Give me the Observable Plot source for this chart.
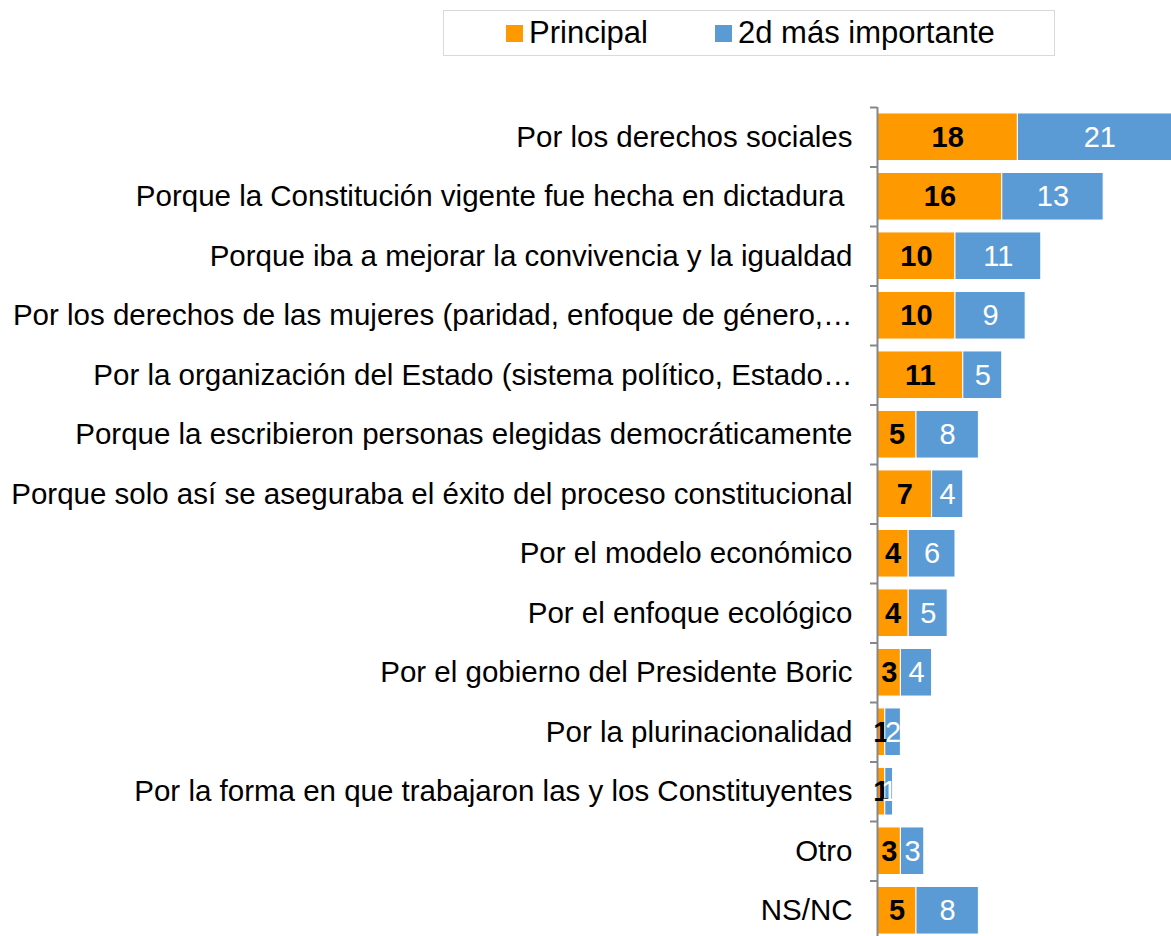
<!DOCTYPE html>
<html>
<head>
<meta charset="utf-8">
<script src="https://cdn.jsdelivr.net/npm/d3@7"></script>
<script src="https://cdn.jsdelivr.net/npm/@observablehq/plot@0.6"></script>
<style>
  html, body { margin: 0; padding: 0; background: #fff; overflow: hidden; }
  #wrap { position: relative; width: 1171px; height: 936px; font-family: "Liberation Sans", Arial, sans-serif; }
  #legend { position: absolute; left: 443px; top: 10px; width: 610px; height: 44px; border: 1px solid #d9d9d9;
            font-size: 31px; color: #000; box-sizing: content-box; }
  .item { display: flex; align-items: center; position: absolute; top: 5px; height: 34px; }
  .sw { width: 17px; height: 17px; margin-right: 6px; }
  #chart { position: absolute; left: 0; top: 66px; width: 1171px; }
</style>
</head>
<body>
<div id="wrap">
  <div id="legend"></div>
  <div id="chart"></div>
</div>
<script>
const categories = [
  "Por los derechos sociales",
  "Porque la Constitución vigente fue hecha en dictadura ",
  "Porque iba a mejorar la convivencia y la igualdad",
  "Por los derechos de las mujeres (paridad, enfoque de género,…",
  "Por la organización del Estado (sistema político, Estado…",
  "Porque la escribieron personas elegidas democráticamente",
  "Porque solo así se aseguraba el éxito del proceso constitucional",
  "Por el modelo económico",
  "Por el enfoque ecológico",
  "Por el gobierno del Presidente Boric",
  "Por la plurinacionalidad",
  "Por la forma en que trabajaron las y los Constituyentes",
  "Otro",
  "NS/NC"
];
const principal = [18, 16, 10, 10, 11, 5, 7, 4, 4, 3, 1, 1, 3, 5];
const segundo   = [21, 13, 11, 9, 5, 8, 4, 6, 5, 4, 2, 1, 3, 8];
const seriesNames = ["Principal", "2d más importante"];
const seriesColors = ["#FF9900", "#5B9BD5"];

const data = [
  ...categories.map((c, i) => ({cat: c, series: seriesNames[0], value: principal[i]})),
  ...categories.map((c, i) => ({cat: c, series: seriesNames[1], value: segundo[i]}))
];

// legend
const legend = document.getElementById("legend");
const legendPos = [62, 271];
seriesNames.forEach((s, i) => {
  const it = document.createElement("div");
  it.className = "item";
  it.style.left = legendPos[i] + "px";
  it.innerHTML = `<span class="sw" style="background:${seriesColors[i]}"></span><span>${s}</span>`;
  legend.appendChild(it);
});

const font = "Liberation Sans, Arial, sans-serif";
const H = 874, MT = 41;
const step = (H - MT) / categories.length;
const textOpts = (series, fill, weight) => Plot.stackX({
  x: "value", y: "cat", z: "series", text: d => d.series === series ? String(d.value) : "",
  fill, fontWeight: weight, fontSize: 29
});
const chart = Plot.plot({
  width: 1171,
  height: H,
  marginLeft: 877,
  marginRight: 0,
  marginTop: MT,
  marginBottom: 0,
  style: {fontFamily: font, background: "white", overflow: "hidden"},
  x: {domain: [0, 37.7], axis: null},
  y: {domain: categories, paddingInner: 0.2, paddingOuter: 0.1, round: false, axis: null},
  color: {domain: seriesNames, range: seriesColors},
  marks: [
    Plot.barX(data, Plot.stackX({x: "value", y: "cat", fill: "series", stroke: "white", strokeWidth: 1, clip: true})),
    Plot.axisY({tickSize: 0, tickPadding: 25, fontSize: 29.5, fill: "#000", textAnchor: "end", label: null}),
    Plot.ruleX([0], {stroke: "#878787", strokeWidth: 2}),
    Plot.ruleY(categories, {y: d => d, x1: -0.9, x2: 0, stroke: "#878787", strokeWidth: 2, dy: -step / 2}),
    Plot.text(data, textOpts(seriesNames[0], "#000", "bold")),
    Plot.text(data, textOpts(seriesNames[1], "#fff", "normal"))
  ]
});
document.getElementById("chart").appendChild(chart);
</script>
</body>
</html>
